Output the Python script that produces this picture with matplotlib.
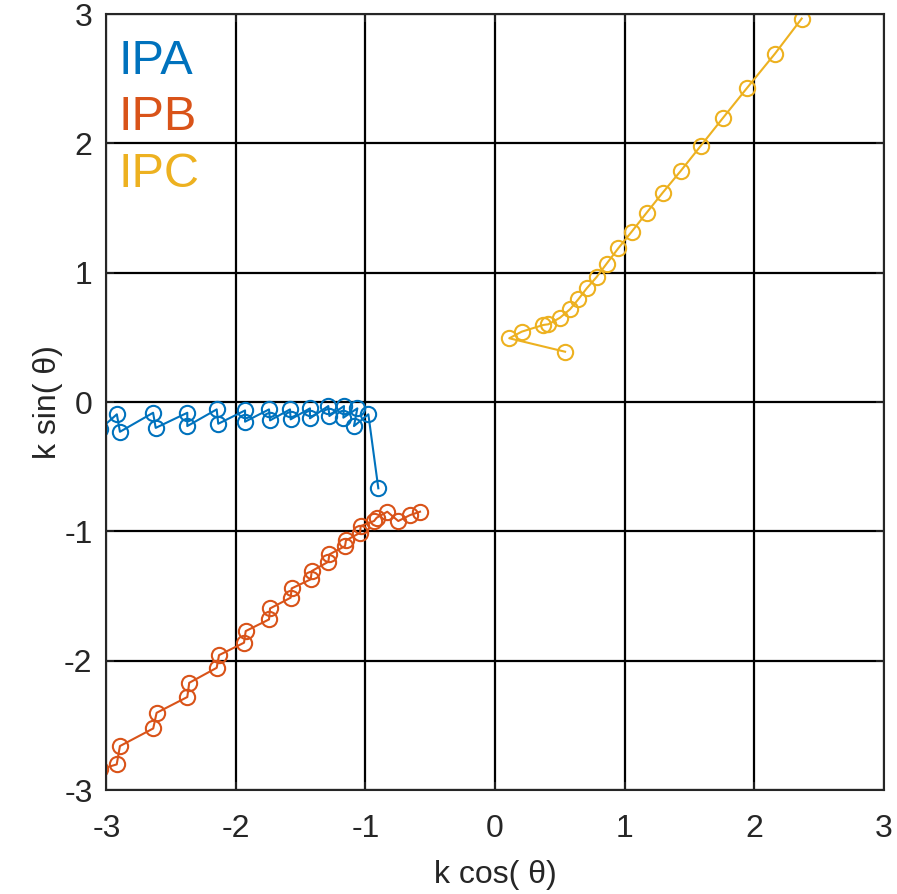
import numpy as np
import matplotlib.pyplot as plt

plt.rcParams['font.family'] = ['Liberation Sans', 'DejaVu Sans']
plt.rcParams['axes.unicode_minus'] = False

# IPA (blue)
ipa_x = [-3.05, -2.92, -2.896, -2.64, -2.62, -2.376, -2.376, -2.149, -2.137, -1.93, -1.93,
         -1.745, -1.737, -1.583, -1.578, -1.429, -1.429, -1.287, -1.279, -1.166, -1.171,
         -1.063, -1.089, -0.978, -0.901]
ipa_y = [-0.21, -0.095, -0.23, -0.083, -0.20, -0.083, -0.186, -0.057, -0.168, -0.065, -0.152,
         -0.057, -0.142, -0.057, -0.134, -0.049, -0.126, -0.031, -0.108, -0.031, -0.121,
         -0.049, -0.186, -0.095, -0.667]

# IPB (orange)
ipb_x = [-3.05, -2.921, -2.896, -2.639, -2.613, -2.376, -2.361, -2.149, -2.131, -1.938, -1.925,
         -1.745, -1.737, -1.578, -1.57, -1.423, -1.415, -1.287, -1.279, -1.158, -1.151,
         -1.042, -1.037, -0.934, -0.914, -0.832, -0.747, -0.656, -0.579]
ipb_y = [-2.84, -2.802, -2.66, -2.524, -2.403, -2.281, -2.171, -2.055, -1.957, -1.861, -1.771,
         -1.681, -1.596, -1.513, -1.441, -1.371, -1.307, -1.235, -1.178, -1.114, -1.07,
         -1.011, -0.959, -0.92, -0.895, -0.848, -0.92, -0.874, -0.848]

# IPC (yellow)
ipc_x = [0.541, 0.11, 0.206, 0.373, 0.412, 0.502, 0.579, 0.643, 0.708, 0.785, 0.862, 0.952,
         1.056, 1.171, 1.295, 1.434, 1.588, 1.758, 1.944, 2.162, 2.368]
ipc_y = [0.389, 0.493, 0.544, 0.596, 0.601, 0.652, 0.717, 0.794, 0.879, 0.967, 1.07, 1.189,
         1.318, 1.464, 1.619, 1.787, 1.98, 2.194, 2.426, 2.694, 2.965]

names = ['IPA', 'IPB', 'IPC']
colors = ['#0072BD', '#D95319', '#EDB120']
label_y = [2.54, 2.10, 1.66]

fig = plt.figure(figsize=(8.97, 8.94), dpi=100)
ax = fig.add_axes([0.1187, 0.1163, 0.8663, 0.868])

for xs, ys, c in zip([ipa_x, ipb_x, ipc_x], [ipa_y, ipb_y, ipc_y], colors):
    ax.plot(xs, ys, '-o', color=c, lw=1.5, markersize=11, markerfacecolor='none',
            markeredgewidth=1.5, clip_on=True)

for name, c, yy in zip(names, colors, label_y):
    ax.text(-2.91, yy, name, color=c, fontsize=35, ha='left', va='baseline')

ax.set_xlim(-3, 3)
ax.set_ylim(-3, 3)
ax.set_xticks(range(-3, 4))
ax.set_yticks(range(-3, 4))
ax.grid(True, color='black', lw=1.6)
ax.set_axisbelow(True)
for s in ax.spines.values():
    s.set_color('#262626')
    s.set_linewidth(1.5)
ax.tick_params(direction='in', length=6, width=1.2, colors='#262626', labelsize=23,
               top=True, right=True)
ax.tick_params(axis='x', pad=17)
ax.tick_params(axis='y', pad=10)
ax.set_xlabel('k cos( θ)', fontsize=23, color='#262626', labelpad=12)
ax.set_ylabel('k sin( θ)', fontsize=23, color='#262626', labelpad=1)

fig.savefig('out.png', dpi=100)
